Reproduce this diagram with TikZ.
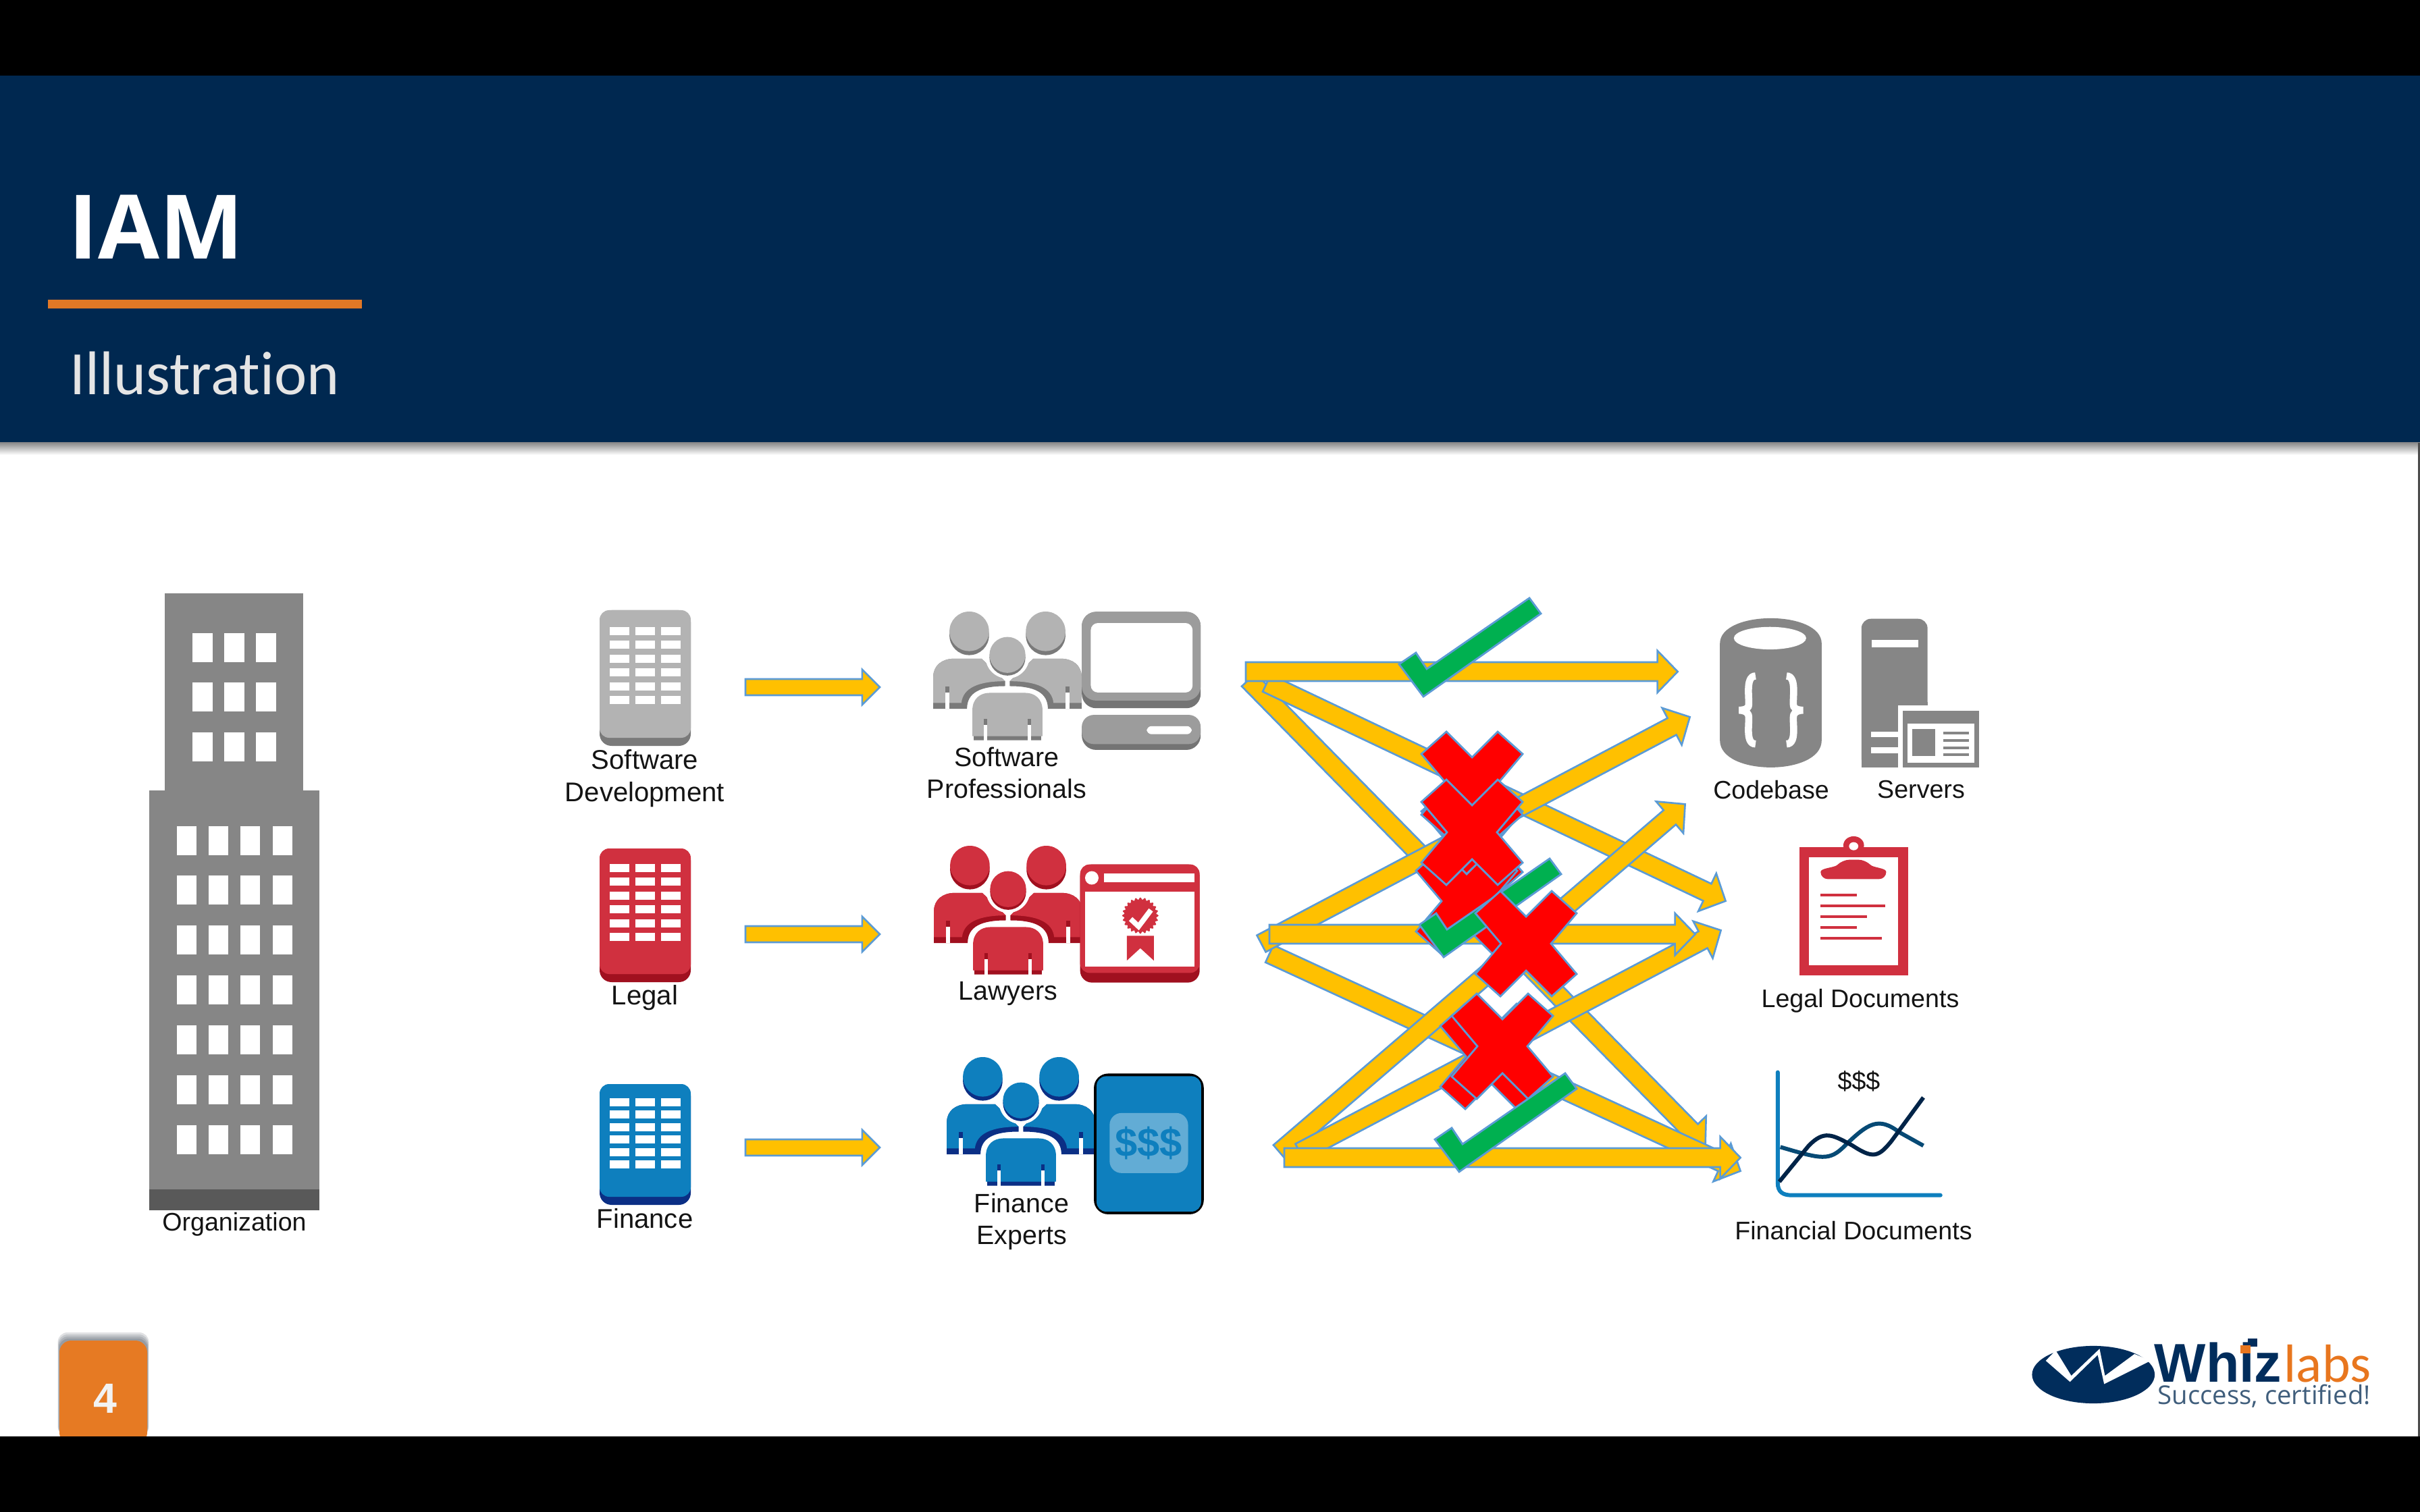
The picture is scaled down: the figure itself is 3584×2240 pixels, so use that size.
\documentclass[tikz,border=0pt]{standalone}
\usepackage{fontspec}
\setmainfont{Liberation Sans}
\newfontfamily\opensans{Open Sans}
\newfontfamily\carlito[Ligatures=NoCommon]{Carlito}
\usetikzlibrary{calc}
\definecolor{navy}{HTML}{002850}
\definecolor{barorange}{HTML}{E27826}
\definecolor{badgeorange}{HTML}{E67A23}
\definecolor{arrowfill}{HTML}{FFC000}
\definecolor{arrowline}{HTML}{5B9BD5}
\definecolor{okgreen}{HTML}{00B050}
\definecolor{nored}{HTML}{FF0000}
\definecolor{towergrey}{HTML}{868686}
\definecolor{towerdark}{HTML}{595959}
\definecolor{lgrey}{HTML}{B3B3B3}
\definecolor{dgrey}{HTML}{7A7A7A}
\definecolor{cgrey}{HTML}{9C9C9C}
\definecolor{cdark}{HTML}{747474}
\definecolor{lred}{HTML}{D0303F}
\definecolor{dred}{HTML}{A0101F}
\definecolor{lblue}{HTML}{0E7FBE}
\definecolor{dblue}{HTML}{0B2F85}
\definecolor{txt}{HTML}{141414}
\definecolor{logonavy}{HTML}{012D5C}
\definecolor{logoorange}{HTML}{E8761E}
\tikzset{
  lblA/.style={font=\fontsize{11.4}{13.6}\selectfont,text=txt,inner sep=0pt,align=center},
  lblB/.style={font=\fontsize{11.2}{13.4}\selectfont,text=txt,inner sep=0pt,align=center},
  lblC/.style={font=\fontsize{10.7}{12.8}\selectfont,text=txt,inner sep=0pt,align=center},
  fatarrow/.style={fill=arrowfill,draw=arrowline,line width=0.75pt,line join=miter},
  marklook/.style={draw=arrowline,line width=0.8pt,line join=miter},
  zA/.style={shift={(780,840)},x=0.006633cm,y=-0.006633cm},
  zB/.style={shift={(1780,840)},x=0.00765cm,y=-0.006667cm},
  zN/.style={shift={(1370,1240)},x=0.003333cm,y=-0.003333cm},
  zL/.style={shift={(2960,1930)},x=0.003979cm,y=-0.003333cm},
}
% connector-like block arrow between two named coordinates
\newcommand\fatarr[5]{%
  \pgfpointdiff{\pgfpointanchor{#1}{center}}{\pgfpointanchor{#2}{center}}%
  \pgfgetlastxy{\fatdx}{\fatdy}%
  \pgfmathsetmacro\fatang{atan2(\fatdy,\fatdx)}%
  \pgfmathsetmacro\fatlen{veclen(\fatdx,\fatdy)/0.2845276}%
  \pgfmathsetmacro\fatneck{\fatlen-#5}%
  \begin{scope}[shift={(#1)},rotate=\fatang,x=0.01cm,y=0.01cm]
    \draw[fatarrow] (0,#3) -- (\fatneck,#3) -- (\fatneck,#4) -- (\fatlen,0) -- (\fatneck,-#4) -- (\fatneck,-#3) -- (0,-#3) -- cycle;
  \end{scope}}
\newcommand\redx[2]{%
  \draw[marklook,fill=nored,shift={(#1,#2)}] (0,-40) -- (38,-78) -- (75,-45) -- (37,0) -- (75,45) -- (38,78) -- (0,40) -- (-38,78) -- (-75,45) -- (-37,0) -- (-75,-45) -- (-38,-78) -- cycle;}
\newcommand\greencheck[2]{%
  \draw[marklook,fill=okgreen,shift={(#1,#2)}] (0,0) -- (25,-17) -- (41,7) -- (193,-98) -- (210,-75) -- (36,48) -- cycle;}
\newcommand\smallbld[6]{%
  \fill[#6,rounded corners=5pt] (888,#1) rectangle (1023,#2);
  \fill[#5,rounded corners=4pt] (888,#1) rectangle (1023,#2-12);
  \foreach \cc in {903,941,979}{\foreach \rr in {0,...,5}{%
    \fill[white] (\cc,{#3+\rr*#4}) rectangle (\cc+29,{#3+\rr*#4+12});}}}
\newcommand\people[4]{%
  \begin{scope}[shift={(#1,#2)},x=0.003333cm,y=-0.003333cm]
    \foreach \sg in {1,-1}{%
      \begin{scope}[xscale=\sg]
        \fill[#4] (-330,433) -- (-330,290) .. controls (-330,240) and (-290,210) .. (-240,210) -- (-115,210) -- (-10,310) -- (-10,332) .. controls (-120,332) and (-180,360) .. (-180,433) -- cycle;
        \fill[#3] (-330,407) -- (-330,290) .. controls (-330,240) and (-290,210) .. (-240,210) -- (-115,210) -- (-10,310) .. controls (-130,310) and (-198,340) .. (-205,407) -- cycle;
        \fill[#4] (-275,333) rectangle (-258,362);
        \fill[white] (-275,360) rectangle (-258,433);
        \fill[#4] (-170,106) circle [radius=88];
        \fill[#3] (-170,88) circle [radius=88];
      \end{scope}}
    \fill[white] (0,200) circle [radius=98];
    \fill[white] (-4,300) rectangle (4,365);
    \draw[white,line width=1.4pt,fill=#4,line join=round] (-158,580) -- (-158,440) .. controls (-158,385) and (-120,360) .. (-80,360) -- (80,360) .. controls (120,360) and (158,385) .. (158,440) -- (158,580) -- cycle;
    \fill[#3] (-156,555) -- (-156,440) .. controls (-156,387) and (-120,362) .. (-80,362) -- (80,362) .. controls (120,362) and (156,387) .. (156,440) -- (156,555) -- cycle;
    \foreach \sg in {1,-1}{%
      \begin{scope}[xscale=\sg]
        \fill[#4] (90,478) rectangle (106,506);
        \fill[white] (90,505) rectangle (106,580);
      \end{scope}}
    \fill[#4] (0,205) circle [radius=80];
    \fill[#3] (0,193) circle [radius=80];
  \end{scope}}
\begin{document}
\begin{tikzpicture}[x=0.01cm,y=-0.01cm]
\useasboundingbox (0,0) rectangle (3584,2240);
\fill[white] (0,0) rectangle (3584,2240);
% bars
\fill[navy] (0,112) rectangle (3584,656);
\shade[top color=black!45,bottom color=white] (0,656) rectangle (3584,674);
\fill[black!70] (3581,656) rectangle (3584,2130);
\fill[barorange] (71,444) rectangle (536,457);
\node[anchor=base west,inner sep=0pt,text=white,font=\opensans\bfseries\fontsize{37.5}{40}\selectfont] (title) at (101,384) {IAM};
\node[anchor=base west,inner sep=0pt,text=white!90!black,font=\carlito\fontsize{26}{30}\selectfont] (subtitle) at (103,585) {Illustration};

% organization tower
\fill[towergrey] (244,879) rectangle (449,1175);
\fill[towergrey] (221,1171) rectangle (473,1765);
\fill[towerdark] (221,1762) rectangle (473,1793);
\foreach \xa in {285,332,379}{\foreach \ya in {938,1011,1085}{\fill[white] (\xa,\ya) rectangle (\xa+30,\ya+43);}}
\foreach \xa in {262,309,356,404}{\foreach \ya in {1224,1297,1371,1445,1519,1593,1667}{\fill[white] (\xa,\ya) rectangle (\xa+29,\ya+43);}}
\node[lblC] (org) at (347,1814) {Organization};

% departments
\smallbld{904}{1105}{929}{20.4}{lgrey}{dgrey}
\smallbld{1257}{1455}{1280}{20.4}{lred}{dred}
\smallbld{1606}{1785}{1627}{18.4}{lblue}{dblue}
\node[lblA] (dev) at (955,1153) {Software\\Development};
\node[lblA] (leg) at (955,1478) {Legal};
\node[lblA] (fin) at (955,1805) {Finance};

% small arrows
\coordinate (s1) at (1104,1018); \coordinate (t1) at (1303,1018);
\coordinate (s2) at (1104,1384); \coordinate (t2) at (1303,1384);
\coordinate (s3) at (1104,1700); \coordinate (t3) at (1303,1700);
\fatarr{s1}{t1}{12}{26}{26}
\fatarr{s2}{t2}{12}{26}{26}
\fatarr{s3}{t3}{12}{26}{26}

% people
\people{1492}{906}{lgrey}{dgrey}
\people{1493}{1253}{lred}{dred}
\people{1512}{1566}{lblue}{dblue}

% computer
\begin{scope}[zA]
  \fill[cdark,rounded corners=6pt] (1238,100) rectangle (1503,315);
  \fill[cgrey,rounded corners=6pt] (1238,100) rectangle (1503,298);
  \fill[white,rounded corners=3pt] (1258,125) rectangle (1485,280);
  \fill[cdark,rounded corners=6pt] (1238,330) rectangle (1503,408);
  \fill[cgrey,rounded corners=5pt] (1238,330) rectangle (1503,395);
  \fill[white,rounded corners=2pt] (1383,355) rectangle (1483,373);
  % tablet
  \fill[black,rounded corners=6pt] (1265,1130) rectangle (1510,1444);
  \fill[lblue,rounded corners=4pt] (1271,1136) rectangle (1504,1438);
  \fill[white!35!lblue,rounded corners=5pt] (1300,1218) rectangle (1475,1352);
  \node[text=lblue,inner sep=0pt,font=\bfseries\fontsize{17}{20}\selectfont] (sss) at (1387,1285) {\$\$\$};
\end{scope}
% certificate
\begin{scope}[zN]
  \fill[dred,rounded corners=5pt] (690,122) rectangle (1222,648);
  \fill[lred,rounded corners=4pt] (690,122) rectangle (1222,605);
  \fill[white] (713,243) rectangle (1198,578);
  \fill[white] (742,182) circle [radius=30];
  \fill[white] (795,162) rectangle (1198,200);
  \fill[lred] (898,440) -- (1018,440) -- (1018,550) -- (958,495) -- (898,550) -- cycle;
  \fill[lred] plot[domain=0:360,samples=145,variable=\t,smooth] ({958+(76+5*cos(24*\t))*cos(\t)},{350+(76+5*cos(24*\t))*sin(\t)}) -- cycle;
  \draw[white,line width=2.2pt] (915,365) -- (950,398) -- (1005,325);
\end{scope}

\node[lblB] (pro) at (1491,1145) {Software\\Professionals};
\node[lblB] (law) at (1493,1472) {Lawyers};
\node[lblB] (exp) at (1513,1810) {Finance\\Experts};

% access arrows
\coordinate (a1) at (1845,995);  \coordinate (b1) at (2485,995);
\coordinate (a2) at (1876,1012); \coordinate (b2) at (2556,1335);
\coordinate (a3) at (1849,1007); \coordinate (b3) at (2526,1697);
\coordinate (a4) at (1868,1398); \coordinate (b4) at (2503,1062);
\coordinate (a5) at (1880,1384); \coordinate (b5) at (2511,1384);
\coordinate (a6) at (1880,1413); \coordinate (b6) at (2578,1735);
\coordinate (a7) at (1895,1707); \coordinate (b7) at (2496,1191);
\coordinate (a8) at (1925,1707); \coordinate (b8) at (2549,1378);
\coordinate (a9) at (1902,1715); \coordinate (b9) at (2578,1715);
\fatarr{a3}{b3}{14}{31}{30}
\fatarr{a2}{b2}{14}{31}{30}
\fatarr{a6}{b6}{14}{31}{30}
\fatarr{a7}{b7}{14}{31}{30}
\fatarr{a4}{b4}{14}{31}{30}
\fatarr{a8}{b8}{14}{31}{30}
\fatarr{a1}{b1}{14}{31}{30}
\fatarr{a5}{b5}{14}{31}{30}
\fatarr{a9}{b9}{14}{31}{30}

% marks
\greencheck{2072}{984}
\redx{2180}{1247}
\redx{2172}{1335}
\greencheck{2102}{1370}
\redx{2180}{1162}
\redx{2180}{1233}
\redx{2260}{1398}
\redx{2208}{1565}
\redx{2225}{1550}
\greencheck{2125}{1688}

% right-hand icons
\begin{scope}[zB]
  \fill[towergrey] (1003,170) .. controls (1003,95) and (1200,95) .. (1200,170) -- (1200,385) .. controls (1200,465) and (1003,465) .. (1003,385) -- cycle;
  \fill[white] (1100,158) ellipse [x radius=70,y radius=25];
  \draw[white,line width=3pt] (1072,242) .. controls (1050,242) and (1062,300) .. (1058,310) .. controls (1056,317) and (1045,318) .. (1040,318) .. controls (1045,318) and (1056,320) .. (1058,328) .. controls (1062,340) and (1050,393) .. (1072,393);
  \draw[white,line width=3pt] (1132,242) .. controls (1154,242) and (1142,300) .. (1146,310) .. controls (1148,317) and (1159,318) .. (1164,318) .. controls (1159,318) and (1148,320) .. (1146,328) .. controls (1142,340) and (1154,393) .. (1132,393);
  % server
  \fill[towergrey,rounded corners=4pt] (1277,115) -- (1405,115) -- (1405,320) -- (1277,445) -- cycle;
  \fill[towergrey] (1277,300) rectangle (1405,445);
  \fill[white] (1297,162) rectangle (1387,178);
  \fill[white] (1295,365) rectangle (1350,378);
  \fill[white] (1295,400) rectangle (1350,413);
  \fill[white] (1348,308) rectangle (1506,445);
  \fill[towergrey] (1357,320) rectangle (1505,445);
  \fill[white] (1366,347) rectangle (1495,435);
  \fill[towergrey] (1375,360) rectangle (1420,420);
  \foreach \ya in {365,382,398,414}{\fill[towergrey] (1436,\ya) rectangle (1485,\ya+6);}
  % clipboard
  \fill[lred] (1157,622) rectangle (1367,907);
  \fill[white] (1175,644) rectangle (1348,885);
  \fill[lred] (1262,618) circle [radius=20];
  \fill[white] (1262,620) circle [radius=9];
  \fill[lred,rounded corners=3pt] (1198,693) .. controls (1198,668) and (1225,668) .. (1240,650) -- (1285,650) .. controls (1300,668) and (1325,668) .. (1325,693) -- cycle;
  \foreach \xa/\ya in {1268/728,1323/752,1288/776,1268/800,1317/824}{\fill[lred] (1198,\ya-3) rectangle (\xa,\ya+3);}
  % chart
  \draw[lblue,line width=1.7pt,line cap=round] (1115,1122) -- (1115,1368) .. controls (1115,1388) and (1125,1395) .. (1142,1395) -- (1430,1395);
  \draw[black!30!lblue!70!navy,line width=1.7pt] (1120,1288) .. controls (1200,1315) and (1215,1320) .. (1245,1285) .. controls (1290,1235) and (1310,1220) .. (1350,1255) -- (1397,1285);
  \draw[navy!90!black,line width=1.7pt] (1118,1365) -- (1175,1285) .. controls (1205,1250) and (1220,1260) .. (1260,1285) .. controls (1300,1315) and (1310,1310) .. (1335,1275) -- (1397,1178);
\end{scope}
\node[lblC] (cod) at (2623,1170) {Codebase};
\node[lblC] (srv) at (2845,1170) {Servers};
\node[lblC] (ldoc) at (2755,1483) {Legal Documents};
\node[lblC] (dol) at (2753,1602) {\$\$\$};
\node[lblC] (fdoc) at (2745,1823) {Financial Documents};

% page badge
\foreach \s in {12,9,6,3}{\fill[black!60!navy,opacity=0.12,rounded corners=4pt] (88-\s*0.2,1986-\s) rectangle (218+\s*0.2,2128);}
\fill[badgeorange,rounded corners=5pt] (88,1986) -- (218,1986) -- (218,2140) -- (88,2140) -- cycle;
\node[text=white!95!black,inner sep=0pt,font=\bfseries\fontsize{17.8}{20}\selectfont] (pg) at (156,2072) {4};

% logo
\begin{scope}[zL]
  \fill[logonavy] (352,320) ellipse [x radius=228,y radius=128];
  \fill[white] (175,258) -- (265,352) -- (368,232) -- (392,362) -- (565,258) -- (505,228) -- (395,325) -- (375,205) -- (270,325) -- (212,212) -- cycle;
  \fill[logonavy] (925,160) rectangle (960,195);
\end{scope}
\node[anchor=base west,inner sep=0pt,text=logonavy,font=\bfseries\fontsize{23}{26}\selectfont] (whiz) at (3190,2047) {Whiz};
\node[anchor=base west,inner sep=0pt,text=logoorange,font=\carlito\fontsize{22.6}{26}\selectfont] (labs) at (3382,2047) {labs};
\begin{scope}[zL]
  \fill[logoorange] (898,190) rectangle (935,225);
\end{scope}
\node[anchor=base west,inner sep=0pt,text=navy!75!white,font=\opensans\fontsize{10.9}{12}\selectfont] (tag) at (3195,2080) {Success, certified!};

% bottom letterbox
\fill[black] (0,0) rectangle (3584,112);
\fill[black] (0,2128) rectangle (3584,2240);
\end{tikzpicture}
\end{document}
